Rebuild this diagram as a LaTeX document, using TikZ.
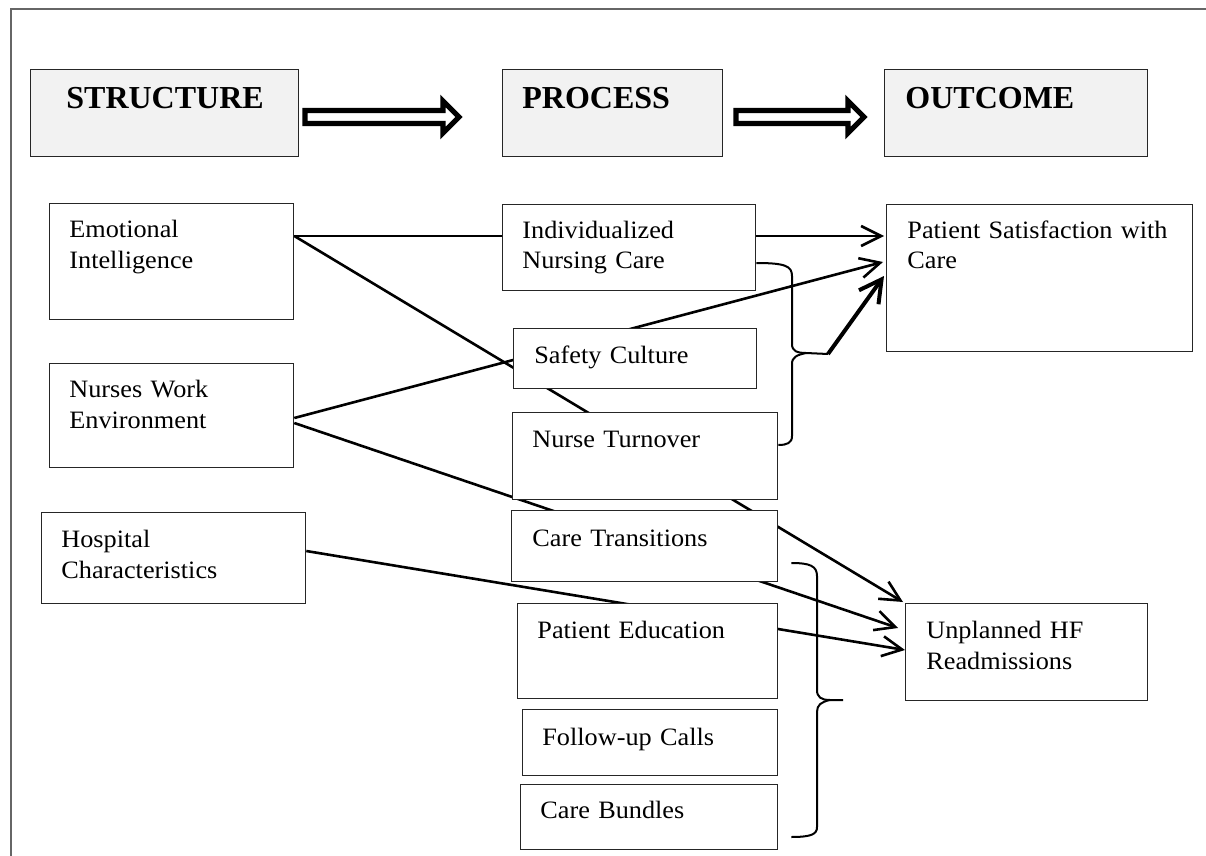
\documentclass[tikz,border=0pt]{standalone}
\usepackage{fontspec}
\setmainfont{Liberation Serif}
\newfontfamily\bodyfont{Liberation Serif}[FakeStretch=1.05]
\usetikzlibrary{arrows.meta, calc, backgrounds}

\begin{document}
\begin{tikzpicture}[x=0.5pt, y=-0.5pt,
    box/.style={draw=black!85, fill=white, line width=0.65pt, anchor=north west, inner sep=0pt},
    headbox/.style={box, fill=black!5},
    txt/.style={anchor=base west, inner sep=0pt, align=left, text width=150pt, font=\bodyfont\fontsize{12.5}{15.5}\selectfont},
    headtxt/.style={anchor=base west, inner sep=0pt, font=\fontsize{16}{19}\selectfont\bfseries},
    conn/.style={line width=1.3pt},
    arr/.style={conn, -{Straight Barb[length=10pt, width=10pt]}},
    bigarr/.style={line width=2pt, -{Straight Barb[length=11pt, width=12pt]}},
    brace/.style={line width=1pt},
    hollow/.style={draw=black, fill=white, line width=2.6pt, line join=miter},
    frame/.style={draw=black!60, line width=0.7pt}]

      \useasboundingbox (0, 0) rectangle (1206, 856);
      \draw[frame] (11, 856) -- (11, 9) -- (1206, 9);

      \node[headbox, minimum width=134pt, minimum height=43.5pt] (strc) at (30, 69) {};
      \node[headbox, minimum width=110pt, minimum height=43.5pt] (proc) at (502, 69) {};
      \node[headbox, minimum width=131.5pt, minimum height=43.5pt] (outc) at (884, 69) {};
      \node[headtxt] (strctxt) at ($(strc.north west) + (36, 40)$) {STRUCTURE};
      \node[headtxt] (proctxt) at ($(proc.north west) + (20, 40)$) {PROCESS};
      \node[headtxt] (outctxt) at ($(outc.north west) + (21, 40)$) {OUTCOME};

      \draw[hollow] (305, 110.5) -- (443, 110.5) -- (443, 101) -- (459, 117) -- (443, 133) -- (443, 123.5) -- (305, 123.5) -- cycle;
      \draw[hollow] (736, 110.5) -- (848, 110.5) -- (848, 101) -- (864, 117) -- (848, 133) -- (848, 123.5) -- (736, 123.5) -- cycle;

      \node[box, minimum width=122pt, minimum height=58pt] (emo) at (49, 203) {};
      \node[box, minimum width=122pt, minimum height=52pt] (nwe) at (49, 363) {};
      \node[box, minimum width=132pt, minimum height=45.5pt] (hosp) at (41, 512) {};
      \node[box, minimum width=126.5pt, minimum height=43pt] (indiv) at (502, 204) {};
      \node[box, minimum width=121.5pt, minimum height=30pt] (safe) at (513, 328) {};
      \node[box, minimum width=132.5pt, minimum height=43.5pt] (turn) at (512, 412) {};
      \node[box, minimum width=133pt, minimum height=35.5pt] (trans) at (511, 510) {};
      \node[box, minimum width=130pt, minimum height=47.5pt] (educ) at (517, 603) {};
      \node[box, minimum width=127.5pt, minimum height=33pt] (calls) at (522, 709) {};
      \node[box, minimum width=128.5pt, minimum height=32.5pt] (bund) at (520, 784) {};
      \node[box, minimum width=153pt, minimum height=73.5pt] (sat) at (886, 204) {};
      \node[box, minimum width=121pt, minimum height=48.5pt] (readm) at (905, 603) {};

      \node[txt] (emotxt) at ($(emo.north west) + (20, 34)$) {Emotional\\Intelligence};
      \node[txt] (nwetxt) at ($(nwe.north west) + (20, 34)$) {Nurses Work\\Environment};
      \node[txt] (hosptxt) at ($(hosp.north west) + (20, 35)$) {Hospital\\Characteristics};
      \node[txt] (indivtxt) at ($(indiv.north west) + (20, 34)$) {Individualized\\Nursing Care};
      \node[txt] (safetxt) at ($(safe.north west) + (21, 35)$) {Safety Culture};
      \node[txt] (turntxt) at ($(turn.north west) + (20, 35)$) {Nurse Turnover};
      \node[txt] (transtxt) at ($(trans.north west) + (21, 36)$) {Care Transitions};
      \node[txt] (eductxt) at ($(educ.north west) + (20, 35)$) {Patient Education};
      \node[txt] (callstxt) at ($(calls.north west) + (20, 36)$) {Follow-up Calls};
      \node[txt] (bundtxt) at ($(bund.north west) + (20, 34)$) {Care Bundles};
      \node[txt] (sattxt) at ($(sat.north west) + (21, 34)$) {Patient Satisfaction with\\Care};
      \node[txt] (readmtxt) at ($(readm.north west) + (21, 35)$) {Unplanned HF\\Readmissions};

      \begin{scope}[on background layer]
        \draw[conn] ($(emo.north east) + (0, 33)$) -- ($(indiv.north west) + (0, 32)$);
        \draw[arr] ($(indiv.north east) + (0, 32)$) -- ($(sat.north west) + (-2, 32)$);
        \draw[arr] ($(emo.north east) + (0, 33)$) -- ($(readm.north west) + (-2, -1)$);
        \draw[arr] ($(nwe.north east) + (0, 55)$) -- ($(sat.north west) + (-3, 58)$);
        \draw[arr] ($(nwe.north east) + (0, 60)$) -- ($(readm.north west) + (-7, 25)$);
        \draw[arr] ($(hosp.north east) + (0, 39)$) -- ($(readm.north west) + (0, 47)$);
      \end{scope}

      \coordinate (tipA) at (828, 354);
      \draw[brace] ($(indiv.north east) + (0, 59)$) .. controls (785, 263) and (792, 266) .. (792, 276) -- (792, 344) .. controls (792, 351) and (797, 353) .. (806, 353) -- (tipA);
      \draw[brace] (806, 353) .. controls (797, 355) and (792, 357) .. (792, 364) -- (792, 436) .. controls (792, 443) and (787, 445) .. ($(turn.north east) + (0, 33)$);
      \draw[bigarr] (tipA) -- ($(sat.north west) + (-2, 72)$);

      \coordinate (tipB) at (843, 700);
      \draw[brace] ($(trans.north east) + (13, 53)$) .. controls (810, 563) and (817, 566) .. (817, 576) -- (817, 690) .. controls (817, 697) and (821, 700) .. (830, 700) -- (tipB);
      \draw[brace] (830, 700) .. controls (821, 702) and (817, 705) .. (817, 712) -- (817, 827) .. controls (817, 834) and (812, 837) .. ($(bund.north east) + (13, 53)$);

    \end{tikzpicture}
\end{document}
